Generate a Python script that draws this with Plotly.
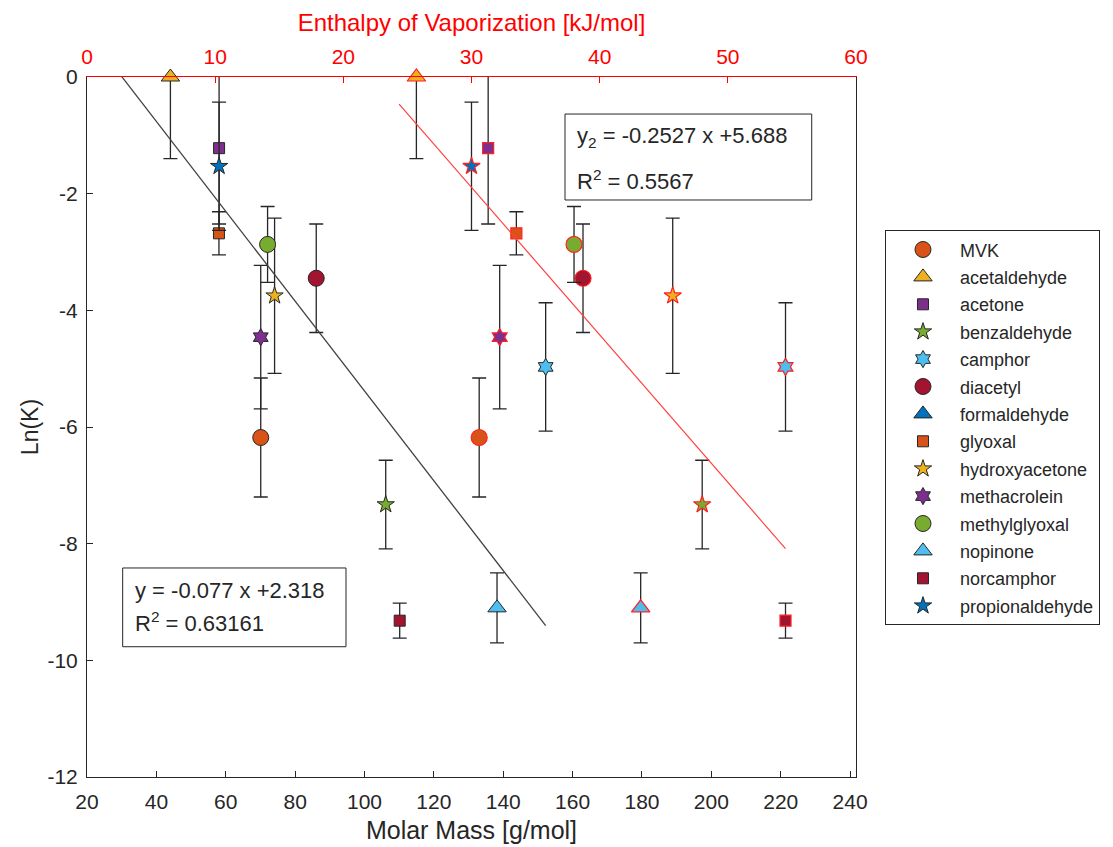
import plotly.graph_objects as go

compounds = ["MVK", "acetaldehyde", "acetone", "benzaldehyde", "camphor", "diacetyl",
             "formaldehyde", "glyoxal", "hydroxyacetone", "methacrolein", "methylglyoxal",
             "nopinone", "norcamphor", "propionaldehyde"]
molar_mass = [70.09, 44.05, 58.08, 106.12, 152.23, 86.09, 30.03, 58.04, 74.08, 70.09,
              72.06, 138.21, 110.15, 58.08]
enthalpy = [30.6, 25.7, 31.3, 48.0, 54.5, 38.7, 24.35, 33.5, 45.7, 32.2, 38.0, 43.2,
            54.5, 30.0]
ln_k = [-6.18, 0.0, -1.22, -7.33, -4.97, -3.45, None, -2.68, -3.75, -4.46, -2.87,
        -9.10, -9.32, -1.53]
ln_k_err = [1.02, 1.40, 1.30, 0.76, 1.10, 0.93, None, 0.37, 1.33, 1.23, 0.65, 0.60,
            0.30, 1.10]
colors = ["#D95319", "#EDB120", "#7E2F8E", "#77AC30", "#4DBEEE", "#A2142F", "#0072BD",
          "#D95319", "#EDB120", "#7E2F8E", "#77AC30", "#4DBEEE", "#A2142F", "#0072BD"]
symbols = ["circle", "triangle-up", "square", "star", "hexagram"] * 3
sizes = {"circle": 16, "triangle-up": 16, "square": 11, "star": 13, "hexagram": 13}

mass_ticks = list(range(20, 241, 20))
enth_ticks = list(range(0, 61, 10))
lnk_ticks = list(range(-12, 1, 2))

fit_mass = (-0.077, 2.318)
fit_enth = (-0.2527, 5.688)

FONT = "Liberation Sans, Arial, sans-serif"
TXT = "#262626"

fig = go.Figure()

for i, name in enumerate(compounds):
    sym = symbols[i]
    fig.add_trace(go.Scatter(
        x=[molar_mass[i]], y=[ln_k[i]], mode="markers", name=name,
        legendgroup=name, xaxis="x", yaxis="y", cliponaxis=False,
        marker=dict(symbol=sym, size=sizes[sym], color=colors[i],
                    line=dict(color="#262626", width=1)),
        error_y=dict(type="data", array=[ln_k_err[i]], color="#262626",
                     thickness=1.3, width=7),
    ))

for i, name in enumerate(compounds):
    sym = symbols[i]
    fig.add_trace(go.Scatter(
        x=[enthalpy[i]], y=[ln_k[i]], mode="markers", name=name, showlegend=False,
        legendgroup=name, xaxis="x2", yaxis="y", cliponaxis=False,
        marker=dict(symbol=sym, size=sizes[sym], color=colors[i],
                    line=dict(color="#FF2020", width=1.2)),
        error_y=dict(type="data", array=[ln_k_err[i]], color="#262626",
                     thickness=1.3, width=7),
    ))

xm = [min(molar_mass), max(molar_mass)]
fig.add_trace(go.Scatter(x=xm, y=[fit_mass[0] * v + fit_mass[1] for v in xm],
                         mode="lines", showlegend=False, xaxis="x", yaxis="y",
                         line=dict(color="#404040", width=1.3)))
xe = [min(enthalpy), max(enthalpy)]
fig.add_trace(go.Scatter(x=xe, y=[fit_enth[0] * v + fit_enth[1] for v in xe],
                         mode="lines", showlegend=False, xaxis="x2", yaxis="y",
                         line=dict(color="#FF4040", width=1.2)))

box_line = dict(color="#262626", width=1)
fig.update_layout(
    width=1113, height=847,
    margin=dict(l=79, r=265, t=69, b=78),
    paper_bgcolor="white", plot_bgcolor="white",
    font=dict(family=FONT, size=20, color=TXT),
    showlegend=True,
    legend=dict(x=1.0377, y=0.781, xanchor="left", yanchor="top",
                bordercolor="#262626", borderwidth=1, bgcolor="white",
                font=dict(size=18, color=TXT), tracegroupgap=1, itemsizing="trace",
                itemwidth=64),
    xaxis=dict(range=[20, 241.7], tickvals=mass_ticks,
               ticktext=[str(v) for v in mass_ticks], automargin=False,
               ticks="inside", ticklen=6, tickcolor=TXT, linecolor=TXT, linewidth=1,
               showline=True, showgrid=False, zeroline=False, ticklabelstandoff=6,
               tickfont=dict(size=21, color=TXT),
               title=dict(text="Molar Mass [g/mol]", font=dict(size=25, color=TXT),
                          standoff=9)),
    xaxis2=dict(range=[0, 60], tickvals=enth_ticks,
                ticktext=[str(v) for v in enth_ticks], overlaying="x", automargin=False,
                side="top", ticks="inside", ticklen=6, tickcolor="#FF0000",
                linecolor="#FF0000", linewidth=1, showline=True, showgrid=False,
                zeroline=False, tickfont=dict(size=21, color="#FF0000"),
                ticklabelstandoff=4,
                title=dict(text="Enthalpy of Vaporization [kJ/mol]",
                           font=dict(size=24, color="#FF0000"), standoff=6)),
    yaxis=dict(range=[-12, 0], tickvals=lnk_ticks,
               ticktext=[str(v) for v in lnk_ticks], automargin=False,
               ticks="inside", ticklabelstandoff=4,
               ticklen=6, tickcolor=TXT, linecolor=TXT, linewidth=1, showline=True,
               mirror=True, showgrid=False, zeroline=False,
               tickfont=dict(size=21, color=TXT),
               title=dict(text="Ln(K)", font=dict(size=23, color=TXT), standoff=2)),
    shapes=[
        dict(type="rect", xref="paper", yref="paper", x0=0.0464, x1=0.3368,
             y0=0.1861, y1=0.2986, line=box_line, fillcolor="white", layer="above"),
        dict(type="rect", xref="paper", yref="paper", x0=0.6216, x1=0.9424,
             y0=0.8243, y1=0.9471, line=box_line, fillcolor="white", layer="above"),
    ],
    annotations=[
        dict(xref="paper", yref="paper", x=0.0598, y=0.2671, xanchor="left",
             yanchor="middle", showarrow=False, text="y = -0.077 x +2.318",
             font=dict(size=22, color=TXT)),
        dict(xref="paper", yref="paper", x=0.0598, y=0.2214, xanchor="left",
             yanchor="middle", showarrow=False, text="R<sup>2</sup> = 0.63161",
             font=dict(size=22, color=TXT)),
        dict(xref="paper", yref="paper", x=0.6346, y=0.9143, xanchor="left",
             yanchor="middle", showarrow=False,
             text="y<sub>2</sub> = -0.2527 x +5.688", font=dict(size=22, color=TXT)),
        dict(xref="paper", yref="paper", x=0.6346, y=0.8529, xanchor="left",
             yanchor="middle", showarrow=False, text="R<sup>2</sup> = 0.5567",
             font=dict(size=22, color=TXT)),
    ],
)

fig.write_html("out.html")
